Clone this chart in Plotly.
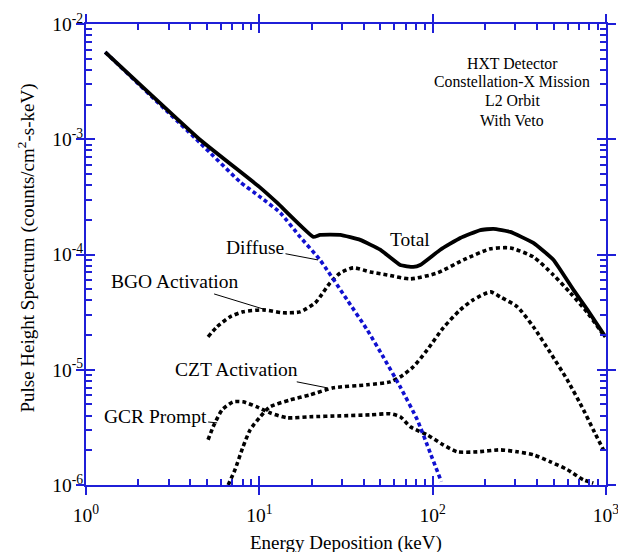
import math
import plotly.graph_objects as go

# ---------------- data ----------------
total_e = [1.29, 4.55, 10.0, 12.7, 20.5, 22.4, 29.3, 38.2, 49.8, 65.0, 77.3, 84.7,
           110.7, 144.2, 188.4, 223.9, 280.5, 381, 497, 649, 782, 993]
total_y = [5.7e-3, 9.9e-4, 3.86e-4, 2.8e-4, 1.42e-4, 1.48e-4, 1.48e-4, 1.34e-4, 1.10e-4,
           8.1e-5, 7.8e-5, 8.1e-5, 1.10e-4, 1.39e-4, 1.63e-4, 1.67e-4, 1.57e-4, 1.26e-4,
           9.0e-5, 4.93e-5, 3.31e-5, 1.93e-5]

diffuse_e = [1.29, 4.55, 7.74, 10.1, 13.2, 17.2, 22.4, 32.1, 41.9, 51.9, 65.0, 81.5, 96.8, 112.2]
diffuse_y = [5.7e-3, 9.3e-4, 4.27e-4, 3.16e-4, 2.30e-4, 1.42e-4, 8.97e-5, 4.04e-5, 2.22e-5,
             1.29e-5, 7.1e-6, 3.68e-6, 1.90e-6, 1.07e-6]

bgo_e = [5.06, 5.70, 6.78, 8.05, 10.5, 13.7, 17.2, 21.0, 22.4, 25.6, 29.3, 34.8, 43.7, 54.7,
         74.3, 106.4, 150.3, 215.3, 280.5, 381, 497, 622, 782, 966]
bgo_y = [1.93e-5, 2.36e-5, 2.88e-5, 3.18e-5, 3.31e-5, 3.12e-5, 3.18e-5, 3.80e-5, 4.29e-5,
         5.68e-5, 6.92e-5, 7.66e-5, 7.06e-5, 6.65e-5, 6.14e-5, 6.92e-5, 8.97e-5, 1.12e-4,
         1.14e-4, 9.53e-5, 6.65e-5, 4.65e-5, 3.12e-5, 2.01e-5]

czt_e = [6.61, 7.24, 8.05, 8.85, 10.1, 11.5, 15.1, 19.6, 26.7, 41.9, 56.9, 65.0, 77.3, 93.1,
         115.1, 144.2, 171.4, 215.3, 245.5, 307.6, 381, 478, 598, 741, 845, 966]
czt_y = [1.00e-6, 1.36e-6, 2.14e-6, 3.01e-6, 3.90e-6, 4.76e-6, 5.48e-6, 6.05e-6, 6.97e-6,
         7.40e-6, 7.85e-6, 8.67e-6, 1.06e-5, 1.49e-5, 2.31e-5, 3.31e-5, 4.04e-5, 4.74e-5,
         4.29e-5, 3.52e-5, 2.36e-5, 1.40e-5, 8.17e-6, 4.49e-6, 3.01e-6, 2.02e-6]

gcr_e = [5.06, 5.48, 6.10, 7.06, 8.05, 9.70, 11.5, 14.5, 19.6, 29.3, 43.7, 56.9, 65.0, 74.3,
         93.1, 115.1, 138.7, 181.1, 245.5, 307.6, 381, 478, 598, 741, 845]
gcr_y = [2.47e-6, 3.33e-6, 4.49e-6, 5.27e-6, 5.27e-6, 4.76e-6, 4.23e-6, 3.83e-6, 3.91e-6,
         3.98e-6, 4.06e-6, 4.15e-6, 3.91e-6, 3.20e-6, 2.72e-6, 2.23e-6, 1.94e-6, 1.94e-6,
         2.02e-6, 1.94e-6, 1.83e-6, 1.59e-6, 1.36e-6, 1.11e-6, 1.04e-6]

x_tick_vals = [1, 10, 100, 1000]
x_tick_text = ["10<sup>0</sup>", "10<sup>1</sup>", "10<sup>2</sup>", "10<sup>3</sup>"]
y_tick_vals = [1e-6, 1e-5, 1e-4, 1e-3, 1e-2]
y_tick_text = ["10<sup>-6</sup>", "10<sup>-5</sup>", "10<sup>-4</sup>", "10<sup>-3</sup>", "10<sup>-2</sup>"]

x_title = "Energy Deposition (keV)"
y_title = "Pulse Height Spectrum (counts/cm<sup>2</sup>-s-keV)"
info_lines = ["HXT Detector", "Constellation-X Mission", "L2 Orbit", "With Veto"]

# ---------------- styling ----------------
FONT = "Liberation Serif"
AXC = "#1f1fd8"
DOT = "4px,3px"

x_minor = [k * 10 ** n for n in range(0, 3) for k in range(2, 10)]
y_minor = [k * 10.0 ** n for n in range(-6, -2) for k in range(2, 10)]

fig = go.Figure()

dotted = dict(mode="lines", hoverinfo="skip", showlegend=False)
for ex, ey in [(gcr_e, gcr_y), (czt_e, czt_y), (bgo_e, bgo_y)]:
    fig.add_trace(go.Scatter(x=ex, y=ey, line=dict(color="black", width=3.6, dash=DOT,
                                                   shape="spline", smoothing=0.6), **dotted))
fig.add_trace(go.Scatter(x=diffuse_e, y=diffuse_y, line=dict(color="#1010d0", width=3.6, dash=DOT,
                                                             shape="spline", smoothing=0.5), **dotted))
fig.add_trace(go.Scatter(x=total_e, y=total_y, line=dict(color="black", width=3.8,
                                                         shape="spline", smoothing=0.35), **dotted))
# carrier trace for the overlay axes that draw the outer half of the major ticks
fig.add_trace(go.Scatter(x=[], y=[], xaxis="x2", yaxis="y2", showlegend=False, hoverinfo="skip"))

common = dict(type="log", showgrid=False, zeroline=False, automargin=False)

fig.update_layout(
    width=618, height=552,
    margin=dict(l=86, r=12, t=24, b=67, autoexpand=False),
    plot_bgcolor="white", paper_bgcolor="white",
    showlegend=False,
    font=dict(family=FONT, color="black", size=18),
    xaxis=dict(
        **common, range=[0, 3],
        showline=True, linecolor=AXC, linewidth=2, mirror="ticks",
        ticks="inside", ticklen=9, tickwidth=2, tickcolor=AXC,
        tickmode="array", tickvals=x_tick_vals, ticktext=x_tick_text,
        tickfont=dict(family=FONT, size=19.5, color="black"), ticklabelstandoff=12,
        ticklabeloverflow="allow",
        minor=dict(tickmode="array", tickvals=x_minor, ticks="inside", ticklen=6,
                   tickwidth=1.5, tickcolor=AXC, showgrid=False),
    ),
    yaxis=dict(
        **common, range=[-6, -2],
        showline=True, linecolor=AXC, linewidth=2, mirror="ticks",
        ticks="inside", ticklen=9, tickwidth=2, tickcolor=AXC,
        tickmode="array", tickvals=y_tick_vals, ticktext=y_tick_text,
        tickfont=dict(family=FONT, size=19.5, color="black"), ticklabelstandoff=-3,
        ticklabeloverflow="allow",
        minor=dict(tickmode="array", tickvals=y_minor, ticks="inside", ticklen=6,
                   tickwidth=1.5, tickcolor=AXC, showgrid=False),
    ),
    xaxis2=dict(
        **common, range=[0, 3], overlaying="x", anchor="y", side="bottom",
        showline=False, mirror="ticks", ticks="outside", ticklen=9, tickwidth=2, tickcolor=AXC,
        tickmode="array", tickvals=x_tick_vals, showticklabels=False,
    ),
    yaxis2=dict(
        **common, range=[-6, -2], overlaying="y", anchor="x", side="left",
        showline=False, mirror="ticks", ticks="outside", ticklen=9, tickwidth=2, tickcolor=AXC,
        tickmode="array", tickvals=y_tick_vals, showticklabels=False,
    ),
)

# axis titles (as annotations so they can sit exactly where the reference has them)
fig.add_annotation(xref="paper", yref="paper", x=0.5, y=-0.1265, xanchor="center", yanchor="middle",
                   text=x_title, showarrow=False, font=dict(family=FONT, size=19, color="black"))
fig.add_annotation(xref="paper", yref="paper", x=-0.1135, y=0.515, xanchor="center", yanchor="middle",
                   text=y_title, textangle=-90, showarrow=False,
                   font=dict(family=FONT, size=19, color="black"))

L = math.log10
lab_font = dict(family=FONT, size=19.5, color="black")

# curve labels
fig.add_annotation(x=L(74.3), y=L(1.34e-4), text="Total", showarrow=False, font=lab_font)
arrow = dict(showarrow=True, arrowhead=0, arrowwidth=1, arrowcolor="black", standoff=0,
             font=lab_font, axref="pixel", ayref="pixel")
fig.add_annotation(x=L(21.8), y=L(8.97e-5), text="Diffuse", ax=-63, ay=-12, **arrow)
fig.add_annotation(x=L(10.5), y=L(3.37e-5), text="BGO Activation", ax=-88, ay=-27, **arrow)
fig.add_annotation(x=L(24.6), y=L(6.97e-6), text="CZT Activation", ax=-91, ay=-18, **arrow)
fig.add_annotation(x=L(5.71), y=L(3.46e-6), text="GCR Prompt", ax=-62, ay=-6, **arrow)

# info block
info_y = [-2.347, -2.503, -2.668, -2.833]
for txt, yy in zip(info_lines, info_y):
    fig.add_annotation(x=2.46, y=yy, text=txt, showarrow=False,
                       font=dict(family=FONT, size=15.8, color="black"))

fig.write_html(
    "out.html",
    config={"displayModeBar": False},
    post_script="document.body.style.margin='0';document.body.style.overflow='hidden';",
)
